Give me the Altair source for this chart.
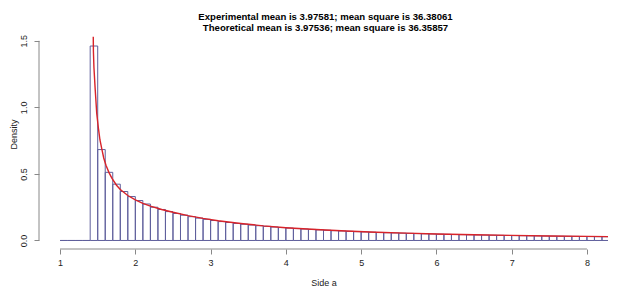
import altair as alt
import pandas as pd

# Histogram breaks (bin edges) and densities
breaks = [1.0, 1.1, 1.2, 1.3, 1.4, 1.5, 1.6, 1.7, 1.8, 1.9, 2.0, 2.1, 2.2, 2.3, 2.4,
          2.5, 2.6, 2.7, 2.8, 2.9, 3.0, 3.1, 3.2, 3.3, 3.4, 3.5, 3.6, 3.7, 3.8, 3.9,
          4.0, 4.1, 4.2, 4.3, 4.4, 4.5, 4.6, 4.7, 4.8, 4.9, 5.0, 5.1, 5.2, 5.3, 5.4,
          5.5, 5.6, 5.7, 5.8, 5.9, 6.0, 6.1, 6.2, 6.3, 6.4, 6.5, 6.6, 6.7, 6.8, 6.9,
          7.0, 7.1, 7.2, 7.3, 7.4, 7.5, 7.6, 7.7, 7.8, 7.9, 8.0, 8.1, 8.2, 8.3]
density = [0.0, 0.0, 0.0, 0.0,
           1.461, 0.683, 0.512, 0.423, 0.368, 0.330, 0.300, 0.274, 0.250, 0.233,
           0.217, 0.203, 0.190, 0.179, 0.168, 0.159, 0.150, 0.142, 0.135, 0.128,
           0.122, 0.116, 0.111, 0.106, 0.101, 0.097, 0.093, 0.0895, 0.086, 0.083,
           0.0795, 0.0766, 0.0739, 0.0713, 0.0688, 0.0665, 0.0643, 0.0622, 0.0603,
           0.0584, 0.0566, 0.0549, 0.0533, 0.0518, 0.0503, 0.0489, 0.0475, 0.0462,
           0.045, 0.0438, 0.0426, 0.0415, 0.0405, 0.0395, 0.0385, 0.0376, 0.0367,
           0.0359, 0.035, 0.0343, 0.0335, 0.0328, 0.032, 0.0313, 0.0307, 0.030,
           0.0294, 0.0288, 0.0282]

# Theoretical density curve points
curve_x = [1.441, 1.443, 1.45, 1.465, 1.487, 1.51, 1.53, 1.555, 1.58, 1.61, 1.65,
           1.69, 1.75, 1.8, 1.9, 2.0, 2.1, 2.2, 2.35, 2.5, 2.7, 2.9, 3.1, 3.4, 3.7,
           4.0, 4.4, 4.8, 5.2, 5.6, 6.0, 6.5, 7.0, 7.5, 8.0, 8.3]
curve_y = [1.53, 1.42, 1.30, 1.15, 0.955, 0.84, 0.755, 0.686, 0.62, 0.565, 0.51,
           0.467, 0.415, 0.383, 0.338, 0.305, 0.279, 0.258, 0.233, 0.212, 0.187,
           0.166, 0.148, 0.128, 0.110, 0.096, 0.082, 0.071, 0.062, 0.055, 0.049,
           0.043, 0.038, 0.034, 0.031, 0.029]

x_ticks = [1, 2, 3, 4, 5, 6, 7, 8]
y_ticks = [0, 0.5, 1.0, 1.5]

title_lines = ["Experimental mean is 3.97581; mean square is 36.38061",
               "Theoretical mean is 3.97536; mean square is 36.35857"]
x_title = "Side a"
y_title = "Density"

W = 569
H = 230
FONT = "Liberation Sans"

hist_df = pd.DataFrame({
    "left": breaks[:-1],
    "right": breaks[1:],
    "density": density,
    "base": [0.0] * len(density),
})
curve_df = pd.DataFrame({"x": curve_x, "y": curve_y})

xscale = alt.Scale(domain=[0.72, 8.28], nice=False, zero=False)
yscale = alt.Scale(domain=[-0.064, 1.664], nice=False, zero=False)

xaxis = alt.Axis(values=x_ticks, format="d", domain=False, grid=False, tickSize=5,
                 tickColor="#888888", labelFont=FONT, labelFontSize=9, labelColor="#222222",
                 labelPadding=4, title=x_title, titleFont=FONT, titleFontSize=9,
                 titleFontWeight="normal", titleColor="#222222", titlePadding=11)
yaxis = alt.Axis(values=y_ticks, format=".1f", domain=False, grid=False, tickSize=5,
                 tickColor="#888888", labelFont=FONT, labelFontSize=9, labelColor="#222222",
                 labelAngle=270, labelAlign="center", labelBaseline="bottom", labelPadding=6,
                 title=y_title, titleFont=FONT, titleFontSize=9, titleFontWeight="normal",
                 titleColor="#222222", titlePadding=1)

bars = alt.Chart(hist_df).mark_rect(
    fill="white", fillOpacity=0, stroke="#5f5f9c", strokeWidth=1, clip=True
).encode(
    x=alt.X("left:Q", scale=xscale, axis=xaxis),
    x2="right:Q",
    y=alt.Y("density:Q", scale=yscale, axis=yaxis),
    y2="base:Q",
)

curve = alt.Chart(curve_df).mark_line(
    color="#d8232a", strokeWidth=1.4, clip=True
).encode(
    x=alt.X("x:Q", scale=xscale),
    y=alt.Y("y:Q", scale=yscale),
)

xline = alt.Chart(pd.DataFrame({"a": [min(x_ticks)], "b": [max(x_ticks)]})).mark_rule(
    color="#888888", strokeWidth=1
).encode(x=alt.X("a:Q", scale=xscale), x2="b:Q", y=alt.value(H))

yline = alt.Chart(pd.DataFrame({"a": [min(y_ticks)], "b": [max(y_ticks)]})).mark_rule(
    color="#888888", strokeWidth=1
).encode(y=alt.Y("a:Q", scale=yscale), y2="b:Q", x=alt.value(0))

chart = alt.layer(bars, curve, xline, yline).properties(
    width=W,
    height=H,
    title=alt.TitleParams(text=title_lines, anchor="middle", align="center", fontSize=9.6,
                          fontWeight="bold", font=FONT, lineHeight=11, offset=-14,
                          color="#000000", dx=2),
    autosize=alt.AutoSizeParams(type="none"),
    padding={"left": 31, "top": 11, "right": 14, "bottom": 38},
).configure_view(stroke=None)

chart.save("out.html", embed_options={"renderer": "svg", "actions": False})
